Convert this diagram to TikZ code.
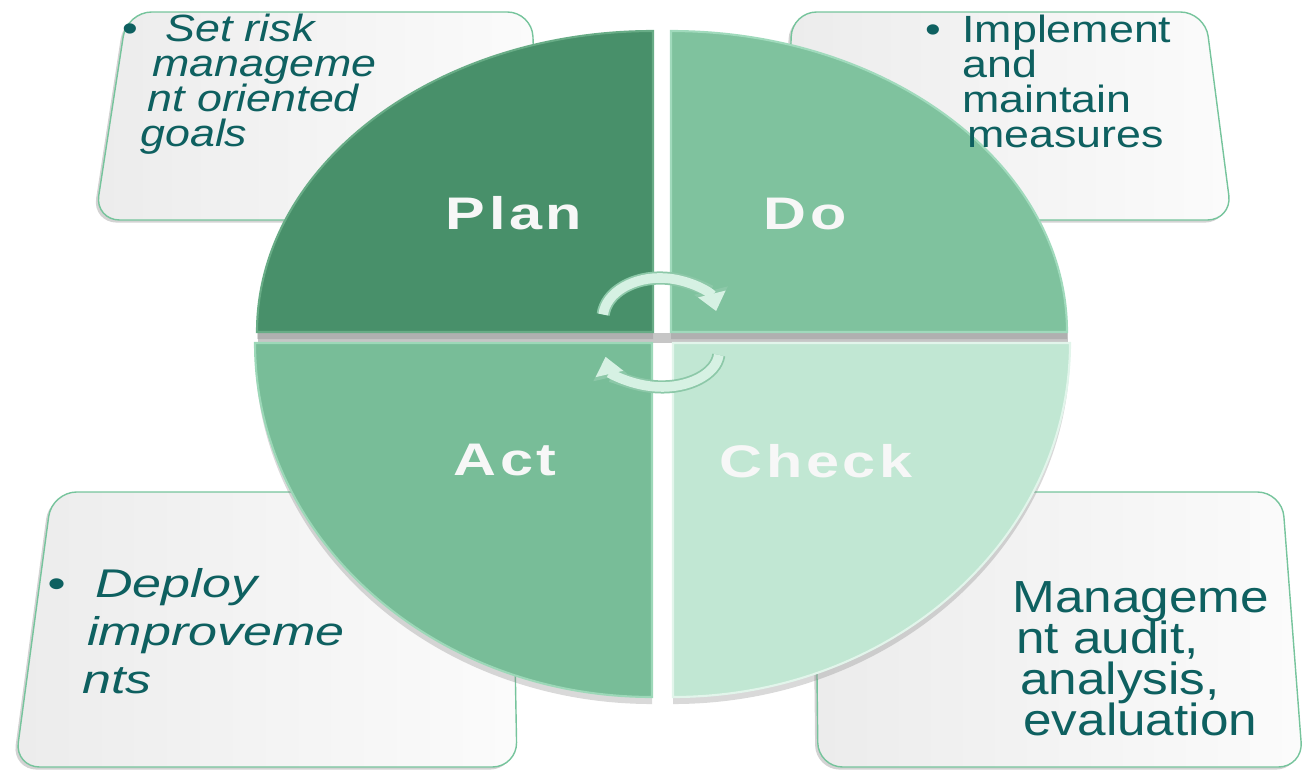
\documentclass[tikz,border=0pt]{standalone}
\usepackage{fontspec}
\setmainfont{Liberation Sans}
\usepackage{xcolor}
\definecolor{PlanSurface}{RGB}{72,144,106}
\definecolor{PlanEdge}{RGB}{104,172,134}
\definecolor{DoSurface}{RGB}{127,194,158}
\definecolor{DoEdge}{RGB}{160,218,188}
\definecolor{ActSurface}{RGB}{120,189,152}
\definecolor{ActEdge}{RGB}{156,216,184}
\definecolor{CheckSurface}{RGB}{193,231,211}
\definecolor{CheckEdge}{RGB}{226,245,235}
\definecolor{NoteBorder}{RGB}{118,196,156}
\definecolor{NoteText}{RGB}{14,96,96}
\definecolor{ArrowFill}{RGB}{214,241,227}
\definecolor{ArrowEdge}{RGB}{140,200,168}
\usetikzlibrary{arrows.meta, shadows}
\setlength{\lineskiplimit}{-20pt}

\tikzset{
  note/.style={draw=NoteBorder, line width=0.8pt, rounded corners=14pt,
    left color=gray!15, right color=gray!3,
    drop shadow={shadow xshift=-1.5pt, shadow yshift=-1.5pt, opacity=0.35}},
  quadrant/.style={line width=1.2pt,
    drop shadow={shadow xshift=0pt, shadow yshift=-4pt, opacity=0.3}},
  notetext/.style={text=NoteText, inner sep=0pt, align=left},
  topnote/.style={notetext, font=\fontsize{21.6}{19.9}\selectfont\addfontfeature{FakeStretch=1.18}},
  topnoteit/.style={notetext, font=\itshape\fontsize{21.6}{19.9}\selectfont\addfontfeature{FakeStretch=1.18}},
  actnote/.style={notetext, font=\itshape\fontsize{22.8}{27.3}\selectfont\addfontfeature{FakeStretch=1.3}},
  checknote/.style={notetext, font=\fontsize{25.6}{23.3}\selectfont\addfontfeature{FakeStretch=1.14}},
  phase/.style={text=white!94!gray, inner sep=0pt, anchor=base,
    font=\bfseries\fontsize{26}{28}\selectfont\addfontfeature{FakeStretch=1.3, LetterSpace=8}},
  arrowout/.style={ArrowEdge, line width=7.5pt, -{Triangle[width=19pt, length=12pt]}},
  arrowin/.style={ArrowFill, line width=5.5pt, -{Triangle[width=15.5pt, length=10pt]}},
}

\begin{document}
\begin{tikzpicture}[x=0.02cm, y=-0.02cm]
\useasboundingbox (0,0) rectangle (1305,771);

% Recuadros de texto, por debajo del disco
\draw[note] (127,12) -- (532,12) -- (540,220) -- (95,220) -- cycle;
\draw[note] (792,12) -- (1205,12) -- (1232,220) -- (785,220) -- cycle;
\draw[note] (52,492) -- (512,492) -- (517,767) -- (15,767) -- cycle;
\draw[note] (815,492) -- (1282,492) -- (1303,767) -- (818,767) -- cycle;

\fill[gray!45] (258,333) rectangle (1068,343);

% Cuadrantes del disco
\draw[quadrant, fill=PlanSurface, draw=PlanEdge] (653,332) -- (257,332)
  arc[start angle=180, end angle=270, x radius=396, y radius=301] -- cycle;
\draw[quadrant, fill=DoSurface, draw=DoEdge] (671,332) -- (671,31)
  arc[start angle=270, end angle=360, x radius=396, y radius=301] -- cycle;
\draw[quadrant, fill=ActSurface, draw=ActEdge] (652,343) -- (652,697)
  arc[start angle=90, end angle=180, x radius=397, y radius=354] -- cycle;
\draw[quadrant, fill=CheckSurface, draw=CheckEdge] (673,343) -- (1070,343)
  arc[start angle=0, end angle=90, x radius=397, y radius=354] -- cycle;

% Flechas del ciclo
\draw[arrowout] (603.2,314.5) arc[start angle=185, end angle=350, x radius=57, y radius=40];
\draw[arrowin] (603.2,314.5) arc[start angle=185, end angle=350, x radius=57, y radius=40];
\draw[arrowout] (718.8,355) arc[start angle=5, end angle=172, x radius=57, y radius=35];
\draw[arrowin] (718.8,355) arc[start angle=5, end angle=172, x radius=57, y radius=35];

\node[phase] (plan) at (514,229) {Plan};
\node[phase] (do) at (805,229) {Do};
\node[phase] (act) at (505,475) {Act};
\node[phase] (check) at (816,477) {Check};

% El ancla base cae en la ultima linea de cada texto
\node[topnote, anchor=base] (planbullet) at (130,41) {•};
\node[topnoteit, anchor=base west] (plangoals) at (140,146)
  {\hspace*{0.5cm}Set risk\\ \hspace*{0.24cm}manageme\\ \hspace*{0.14cm}nt oriented\\ goals};

\node[topnote, anchor=base] (dobullet) at (933,42) {•};
\node[topnote, anchor=base west] (domeasures) at (962,147)
  {Implement\\ and\\ maintain\\ \hspace*{0.1cm}measures};

\node[actnote, anchor=base] (actbullet) at (57,597) {•};
\node[actnote, anchor=base west] (actdeploy) at (82,693)
  {\hspace*{0.26cm}Deploy\\ \hspace*{0.1cm}improveme\\ nts};

\node[checknote, anchor=base west] (checkaudit) at (1012,735)
  {Manageme\\ \hspace*{0.08cm}nt audit,\\ \hspace*{0.16cm}analysis,\\ \hspace*{0.22cm}evaluation};

\end{tikzpicture}
\end{document}
